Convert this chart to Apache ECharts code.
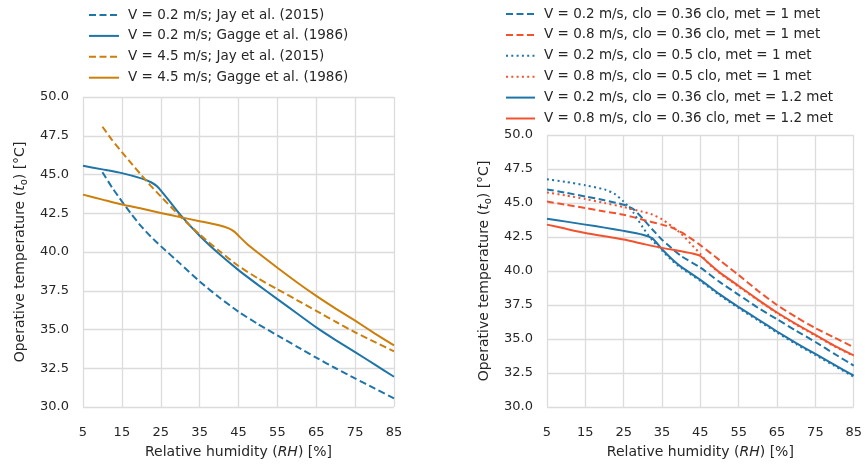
<!DOCTYPE html>
<html>
<head>
<meta charset="utf-8">
<script src="https://cdn.jsdelivr.net/npm/echarts@6/dist/echarts.min.js"></script>
<style>
html,body{margin:0;padding:0;background:#fff;}
#chart{width:865px;height:464px;}
</style>
</head>
<body>
<div id="chart"></div>
<script>
// ---------- data ----------
var xTicks = [5, 15, 25, 35, 45, 55, 65, 75, 85];

// Left panel
var leftNames = ['V = 0.2 m/s; Jay et al. (2015)', 'V = 0.2 m/s; Gagge et al. (1986)', 'V = 4.5 m/s; Jay et al. (2015)', 'V = 4.5 m/s; Gagge et al. (1986)'];
var leftX_J02 = [10,12.5,15,17.5,20,22.5,25,30,35,40,45,50,55,60,65,70,75,80,85];
var leftY_J02 = [45.15,44.15,43.27,42.42,41.65,40.98,40.38,39.25,38.1,37.08,36.15,35.35,34.62,33.9,33.18,32.5,31.84,31.2,30.56];
var leftX_G02 = [5,10,15,20,22.5,24,25,27.5,30,35,40,45,50,55,60,65,70,75,80,85];
var leftY_G02 = [45.56,45.33,45.09,44.75,44.5,44.25,43.98,43.2,42.41,41.05,39.88,38.83,37.88,36.96,36.05,35.14,34.32,33.54,32.75,31.95];
var leftX_J45 = [10,12.5,15,17.5,20,22.5,25,30,35,40,45,50,55,60,65,70,75,80,85];
var leftY_J45 = [48.08,47.22,46.45,45.7,44.96,44.25,43.59,42.3,41.13,40.08,39.1,38.3,37.6,36.9,36.2,35.5,34.82,34.2,33.59];
var leftX_G45 = [5,10,15,20,25,30,35,40,42.5,44,45,47.5,50,55,60,65,70,75,80,85];
var leftY_G45 = [43.7,43.38,43.06,42.8,42.52,42.25,41.99,41.72,41.52,41.3,41.05,40.45,39.95,38.98,38.05,37.17,36.35,35.57,34.75,33.97];

// Right panel
var rightNames = ['V = 0.2 m/s, clo = 0.36 clo, met = 1 met', 'V = 0.8 m/s, clo = 0.36 clo, met = 1 met', 'V = 0.2 m/s, clo = 0.5 clo, met = 1 met', 'V = 0.8 m/s, clo = 0.5 clo, met = 1 met', 'V = 0.2 m/s, clo = 0.36 clo, met = 1.2 met', 'V = 0.8 m/s, clo = 0.36 clo, met = 1.2 met'];
var rX_B036_1 = [5,10,15,20,25,27.5,30,32.5,35,40,45,50,55,60,65,70,75,80,85];
var rY_B036_1 = [46.0,45.75,45.48,45.2,44.87,44.55,43.85,43.05,42.3,41.1,40.25,39.2,38.25,37.3,36.45,35.6,34.78,33.9,33.05];
var rX_R036_1 = [5,10,15,20,25,30,35,37.5,40,42.5,45,50,55,60,65,70,75,80,85];
var rY_R036_1 = [45.11,44.87,44.63,44.38,44.14,43.77,43.41,43.2,42.85,42.4,41.9,40.8,39.7,38.55,37.5,36.6,35.8,35.1,34.4];
var rX_B05_1 = [5,10,15,20,22.5,25,27.5,30,32.5,35,37.5,40,45,50,55,60,65,70,75,80,85];
var rY_B05_1 = [46.75,46.55,46.3,46.0,45.7,45.1,44.3,43.2,42.25,41.5,40.8,40.22,39.27,38.22,37.27,36.37,35.47,34.62,33.82,33.02,32.22];
var rX_R05_1 = [5,10,15,20,25,30,32.5,35,37.5,40,42.5,45,47.5,50,55,60,65,70,75,80,85];
var rY_R05_1 = [45.78,45.55,45.29,45.0,44.7,44.35,44.15,43.8,43.3,42.75,42.0,41.25,40.45,39.85,38.85,37.85,36.9,36.05,35.25,34.45,33.75];
var rX_B036_12 = [5,10,15,20,25,30,32.5,35,37.5,40,45,50,55,60,65,70,75,80,85];
var rY_B036_12 = [43.85,43.63,43.41,43.19,42.95,42.67,42.4,41.6,40.9,40.3,39.35,38.3,37.35,36.45,35.55,34.7,33.9,33.1,32.3];
var rX_R036_12 = [5,10,15,20,25,30,35,40,43.5,45,47.5,50,55,60,65,70,75,80,85];
var rY_R036_12 = [43.41,43.1,42.8,42.55,42.31,42.0,41.7,41.45,41.25,41.1,40.5,39.9,38.9,37.9,36.95,36.1,35.3,34.5,33.8];

// ---------- styles ----------
var BLUE = '#1f74a8';
var ORANGE = '#cc7f0a';
var RED = '#f2532e';
var GRIDC = '#dcdcdc';
var DASH = [7, 3.5];
var DOT = [2, 3.3];
var FONT = 'DejaVu Sans';

function zip(xs, ys) { return xs.map(function (x, i) { return [x, ys[i]]; }); }

function mkSeries(name, idx, xs, ys, color, type) {
  return {
    name: name, type: 'line', xAxisIndex: idx, yAxisIndex: idx,
    data: zip(xs, ys), symbol: 'none', showSymbol: false,
    smooth: 0.2,
    lineStyle: { color: color, width: 2, type: type, cap: 'butt' },
    itemStyle: { color: color },
    animation: false
  };
}

function xAxisCfg(idx) {
  return {
    type: 'value', gridIndex: idx, min: 5, max: 85, interval: 10,
    axisLine: { show: false }, axisTick: { show: false },
    splitLine: { show: true, lineStyle: { color: GRIDC, width: 1.3 } },
    axisLabel: { color: '#262626', fontFamily: FONT, fontSize: 13, margin: 19 },
    name: '{n|Relative humidity (}{i|RH}{n|) [%]}',
    nameLocation: 'middle', nameGap: 38,
    nameTextStyle: { rich: {
      n: { fontFamily: FONT, fontSize: 14, color: '#262626' },
      i: { fontFamily: FONT, fontSize: 14, color: '#262626', fontStyle: 'italic' }
    } }
  };
}
function yAxisCfg(idx, gap) {
  return {
    type: 'value', gridIndex: idx, min: 30, max: 50, interval: 2.5,
    axisLine: { show: false }, axisTick: { show: false },
    splitLine: { show: true, lineStyle: { color: GRIDC, width: 1.3 } },
    axisLabel: { color: '#262626', fontFamily: FONT, fontSize: 13, margin: 14,
      formatter: function (v) { return v.toFixed(1); } },
    name: '{n|Operative temperature (}{i|t}{s|o}{n|) [°C]}',
    nameLocation: 'middle', nameGap: gap,
    nameTextStyle: { rich: {
      n: { fontFamily: FONT, fontSize: 14, color: '#262626' },
      i: { fontFamily: FONT, fontSize: 14, color: '#262626', fontStyle: 'italic' },
      s: { fontFamily: FONT, fontSize: 10, color: '#262626', padding: [8, 0, 0, 0] }
    } }
  };
}

var series = [
  mkSeries(leftNames[0], 0, leftX_J02, leftY_J02, BLUE, DASH),
  mkSeries(leftNames[1], 0, leftX_G02, leftY_G02, BLUE, 'solid'),
  mkSeries(leftNames[2], 0, leftX_J45, leftY_J45, ORANGE, DASH),
  mkSeries(leftNames[3], 0, leftX_G45, leftY_G45, ORANGE, 'solid'),
  mkSeries(rightNames[0], 1, rX_B036_1, rY_B036_1, BLUE, DASH),
  mkSeries(rightNames[1], 1, rX_R036_1, rY_R036_1, RED, DASH),
  mkSeries(rightNames[2], 1, rX_B05_1, rY_B05_1, BLUE, DOT),
  mkSeries(rightNames[3], 1, rX_R05_1, rY_R05_1, RED, DOT),
  mkSeries(rightNames[4], 1, rX_B036_12, rY_B036_12, BLUE, 'solid'),
  mkSeries(rightNames[5], 1, rX_R036_12, rY_R036_12, RED, 'solid')
];

var legendText = { fontFamily: FONT, fontSize: 13.5, color: '#262626', padding: [0, 0, 0, 4] };
var legendItem = { color: 'rgba(0,0,0,0)', borderWidth: 0, opacity: 0 };

var option = {
  backgroundColor: '#ffffff',
  animation: false,
  grid: [
    { left: 83, top: 97, width: 311, height: 311 },
    { left: 547, top: 135, width: 311, height: 273 }
  ],
  xAxis: [xAxisCfg(0), xAxisCfg(1)],
  yAxis: [yAxisCfg(0, 54), yAxisCfg(1, 54)],
  legend: [
    { data: leftNames, orient: 'vertical', left: 88, top: 8, padding: 0, itemWidth: 30, itemHeight: 12,
      itemGap: 6.9, textStyle: legendText, itemStyle: legendItem, selectedMode: false },
    { data: rightNames, orient: 'vertical', left: 505, top: 7, padding: 0, itemWidth: 29, itemHeight: 12,
      itemGap: 6.9, textStyle: legendText, itemStyle: legendItem, selectedMode: false }
  ],
  series: series
};

var chart = echarts.init(document.getElementById('chart'), null, { renderer: 'canvas' });
chart.setOption(option);
</script>
</body>
</html>
